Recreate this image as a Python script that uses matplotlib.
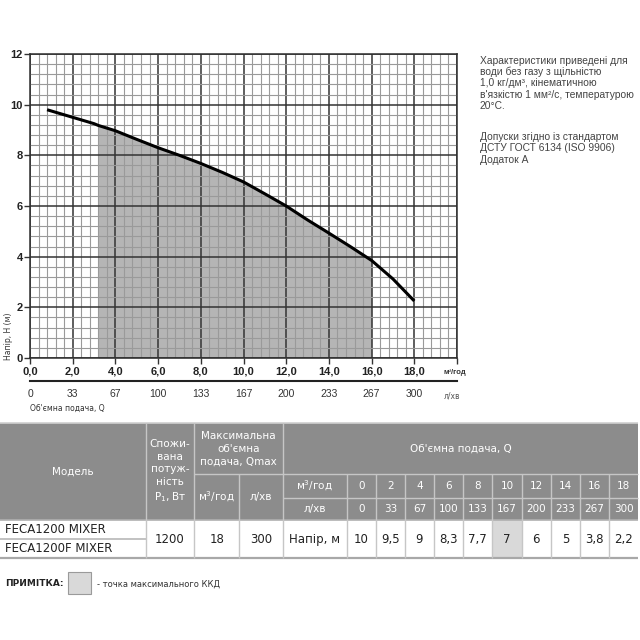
import matplotlib
matplotlib.use('Agg')
import matplotlib.pyplot as plt
from matplotlib.patches import Rectangle
from matplotlib.ticker import MultipleLocator
import numpy as np

# curve (m3/h -> head, m)
q_curve = [0.8, 1, 2, 3, 3.2, 4, 5, 6, 7, 8, 9, 10, 11, 12, 13, 14, 15, 16, 17, 18]
h_curve = [9.8, 9.75, 9.5, 9.25, 9.18, 8.97, 8.63, 8.3, 8.0, 7.68, 7.33, 6.95,
           6.48, 6.0, 5.45, 4.93, 4.4, 3.85, 3.12, 2.25]
shade_from, shade_to = 3.2, 16

# table data
models = ['FECA1200 MIXER', 'FECA1200F MIXER']
power = '1200'
qmax_m3 = '18'
qmax_lpm = '300'
flow_m3 = [0, 2, 4, 6, 8, 10, 12, 14, 16, 18]
flow_lpm = [0, 33, 67, 100, 133, 167, 200, 233, 267, 300]
head = ['10', '9,5', '9', '8,3', '7,7', '7', '6', '5', '3,8', '2,2']
best_idx = 5

note_lines = ['Характеристики приведені для',
              'води без газу з щільністю',
              '1,0 кг/дм³, кінематичною',
              'в\'язкістю 1 мм²/с, температурою',
              '20°C.']
norm_lines = ['Допуски згідно із стандартом',
              'ДСТУ ГОСТ 6134 (ISO 9906)',
              'Додаток А']

fig = plt.figure(figsize=(6.4, 6.4), dpi=100)
W = 640.0

def box(l, t, r, b):
    return [l / W, 1 - b / W, (r - l) / W, (b - t) / W]

# ---- chart ----
ax = fig.add_axes(box(30, 54, 457, 358))
ax.set_xlim(0, 20)
ax.set_ylim(0, 12)
q = np.array(q_curve)
h = np.array(h_curve)
ax.fill_between(q, h, 0, where=(q >= shade_from) & (q <= shade_to),
                color='#b5b5b5', lw=0, zorder=1)
ax.plot(q, h, color='black', lw=2.2, solid_capstyle='butt', zorder=3)
ax.xaxis.set_major_locator(MultipleLocator(2))
ax.yaxis.set_major_locator(MultipleLocator(2))
ax.xaxis.set_minor_locator(MultipleLocator(0.4))
ax.yaxis.set_minor_locator(MultipleLocator(0.4))
ax.set_axisbelow('line')
ax.grid(which='major', color='#333333', lw=1.1)
ax.grid(which='minor', color='#9a9a9a', lw=0.8)
ax.tick_params(which='minor', length=0)
ax.tick_params(which='major', length=4, width=1, color='#333333')
xt = list(range(0, 21, 2))
ax.set_xticks(xt)
ax.set_xticklabels([f'{v:.1f}'.replace('.', ',') if v < 20 else '' for v in xt],
                   fontsize=8, fontweight='bold', family='Liberation Sans',
                   color='#222222')
ax.set_yticks(range(0, 13, 2))
ax.set_yticklabels([str(v) for v in range(0, 13, 2)], fontsize=8,
                   fontweight='bold', family='Liberation Sans', color='#222222')
ax.tick_params(axis='x', pad=2)
ax.tick_params(axis='y', pad=1)
for s in ax.spines.values():
    s.set_color('#2e2e2e')
    s.set_linewidth(1.1)
ax.set_ylabel('Напір, H (м)', fontsize=5.5, color='#333333')
ax.yaxis.set_label_coords(-0.040, 0.07)

# secondary flow axis (l/min)
ax2 = fig.add_axes(box(30, 380.5, 457, 380.7))
ax2.set_xlim(0, 20)
for k in ['top', 'left', 'right']:
    ax2.spines[k].set_visible(False)
ax2.spines['bottom'].set_linewidth(1.5)
ax2.spines['bottom'].set_color('#222222')
ax2.set_yticks([])
ax2.set_xticks(flow_m3)
ax2.set_xticklabels([str(v) for v in flow_lpm], fontsize=7.5, color='#333333',
                    family='Liberation Sans')
ax2.tick_params(axis='x', length=0, pad=6)
ax2.patch.set_visible(False)

# ---- overlay in pixel coordinates ----
ov = fig.add_axes([0, 0, 1, 1])
ov.set_xlim(0, W)
ov.set_ylim(W, 0)
ov.axis('off')

ov.text(455, 372, 'м³/год', fontsize=5.5, fontweight='bold', ha='center',
        va='center', color='#333333', family='Liberation Sans')
ov.text(452, 396, 'л/хв', fontsize=5.5, ha='center', va='center', color='#555555')
ov.text(30, 408, 'Об\'ємна подача, Q', fontsize=5.5, ha='left', va='center',
        color='#333333')

for i, s in enumerate(note_lines):
    ov.text(480, 61 + i * 11.2, s, fontsize=7.4, ha='left', va='center',
            color='#444444', family='Liberation Sans')
for i, s in enumerate(norm_lines):
    ov.text(480, [137, 148, 160][i], s, fontsize=7.4, ha='left', va='center',
            color='#444444', family='Liberation Sans')

# ---- table ----
cols = [0, 145.7, 194.3, 239, 282.7, 346.7, 375.7, 405, 434, 463.3, 492.3,
        521.7, 550.7, 580, 609, 638.3]
y_top, y_mid, y_sub, y_hb, y_row, y_bot = 423.3, 474.3, 497.7, 520, 539, 558.3
hdr = '#8c8c8c'
hline = '#c6c6c6'
cond = dict(family=['Liberation Sans Narrow', 'DejaVu Sans'], color='white')

ov.add_patch(Rectangle((0, y_top), cols[-1], y_hb - y_top, color=hdr, lw=0))
ov.add_patch(Rectangle((cols[5 + best_idx], y_hb), cols[6 + best_idx] - cols[5 + best_idx],
                       y_bot - y_hb, color='#d9d9d9', lw=0))

def hl(y, x0, x1, c=hline, lw=1.0):
    ov.plot([x0, x1], [y, y], color=c, lw=lw, solid_capstyle='butt')

def vl(x, y0, y1, c=hline, lw=1.0):
    ov.plot([x, x], [y0, y1], color=c, lw=lw, solid_capstyle='butt')

hl(y_top, 0, cols[-1], '#d0d0d0', 1.2)
hl(y_mid, cols[2], cols[-1])
hl(y_sub, cols[4], cols[-1])
hl(y_hb, 0, cols[-1], '#b0b0b0', 1.2)
hl(y_row, 0, cols[1], '#b8b8b8', 1.2)
hl(y_bot, 0, cols[-1], '#a8a8a8', 1.6)
for i, x in enumerate(cols[1:-1], start=1):
    if i == 3 or i > 4:
        vl(x, y_mid, y_bot)
    else:
        vl(x, y_top, y_bot)

ov.text(cols[0] + (cols[1] - cols[0]) / 2, (y_top + y_hb) / 2, 'Модель',
        fontsize=7.5, ha='center', va='center', **cond)
ov.text((cols[1] + cols[2]) / 2, (y_top + y_hb) / 2,
        'Спожи-\nвана\nпотуж-\nність\nP$_1$, Вт',
        fontsize=7.5, ha='center', va='center', linespacing=1.35, **cond)
ov.text((cols[2] + cols[4]) / 2, (y_top + y_mid) / 2,
        'Максимальна\nоб\'ємна\nподача, Qmax',
        fontsize=7.5, ha='center', va='center', linespacing=1.3, **cond)
ov.text((cols[2] + cols[3]) / 2, (y_mid + y_hb) / 2, 'м$^3$/год',
        fontsize=7.5, ha='center', va='center', **cond)
ov.text((cols[3] + cols[4]) / 2, (y_mid + y_hb) / 2, 'л/хв',
        fontsize=7.5, ha='center', va='center', **cond)
ov.text((cols[4] + cols[-1]) / 2, (y_top + y_mid) / 2, 'Об\'ємна подача, Q',
        fontsize=7.5, ha='center', va='center', **cond)
ov.text((cols[4] + cols[5]) / 2, (y_mid + y_sub) / 2, 'м$^3$/год',
        fontsize=7.5, ha='center', va='center', **cond)
ov.text((cols[4] + cols[5]) / 2, (y_sub + y_hb) / 2, 'л/хв',
        fontsize=7.5, ha='center', va='center', **cond)
for i in range(len(flow_m3)):
    xc = (cols[5 + i] + cols[6 + i]) / 2
    ov.text(xc, (y_mid + y_sub) / 2, str(flow_m3[i]), fontsize=7.5,
            ha='center', va='center', **cond)
    ov.text(xc, (y_sub + y_hb) / 2, str(flow_lpm[i]), fontsize=7.5,
            ha='center', va='center', **cond)
    ov.text(xc, (y_hb + y_bot) / 2, head[i], fontsize=8.5, ha='center',
            va='center', color='#222222')

body = dict(fontsize=8.5, va='center', color='#222222')
ov.text(5, (y_hb + y_row) / 2, models[0], ha='left', **body)
ov.text(5, (y_row + y_bot) / 2, models[1], ha='left', **body)
ym = (y_hb + y_bot) / 2
ov.text((cols[1] + cols[2]) / 2, ym, power, ha='center', **body)
ov.text((cols[2] + cols[3]) / 2, ym, qmax_m3, ha='center', **body)
ov.text((cols[3] + cols[4]) / 2, ym, qmax_lpm, ha='center', **body)
ov.text(cols[4] + 6, ym, 'Напір, м', ha='left', **body)

# note
ov.text(5, 584, 'ПРИМІТКА:', fontsize=6.5, fontweight='bold', ha='left',
        va='center', color='#222222')
ov.add_patch(Rectangle((68, 572), 23, 22, facecolor='#d9d9d9',
                       edgecolor='#9a9a9a', lw=0.8))
ov.text(97, 584, '- точка максимального ККД', fontsize=6, ha='left',
        va='center', color='#333333')

fig.savefig('out.png', dpi=100)
